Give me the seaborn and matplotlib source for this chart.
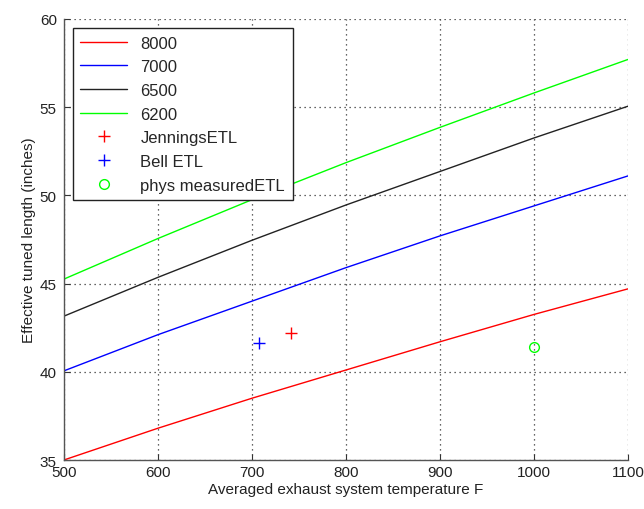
import pandas as pd
import numpy as np
import matplotlib.pyplot as plt
import seaborn as sns

# temperatures (F) and effective tuned lengths
temps = [500, 600, 700, 800, 900, 1000, 1100]
etl_8000 = [35.0, 36.8, 38.5, 40.1, 41.7, 43.25, 44.7]
etl_7000 = [40.05, 42.1, 44.0, 45.9, 47.7, 49.4, 51.1]
etl_6500 = [43.15, 45.35, 47.45, 49.45, 51.35, 53.25, 55.05]
etl_6200 = [45.25, 47.55, 49.75, 51.85, 53.85, 55.8, 57.7]

rpm_labels = ['8000', '7000', '6500', '6200']
line_colors = ['#ff0000', '#0000ff', '#222222', '#00ff00']

jennings_x, jennings_y = [742], [42.2]
bell_x, bell_y = [708], [41.65]
phys_x, phys_y = [1000], [41.4]

rows = []
for lab, vals in zip(rpm_labels, [etl_8000, etl_7000, etl_6500, etl_6200]):
    for t, v in zip(temps, vals):
        rows.append({'temp': t, 'etl': v, 'rpm': lab})
df = pd.DataFrame(rows)

sns.set_style("white")
plt.rcParams['font.family'] = ['Liberation Sans', 'DejaVu Sans']

fig = plt.figure(figsize=(6.44, 5.1), dpi=100)
ax = fig.add_axes([0.099, 0.096, 0.876, 0.865])

sns.lineplot(data=df, x='temp', y='etl', hue='rpm', hue_order=rpm_labels,
             palette=line_colors, linewidth=1.0, ax=ax, legend=False)
for line, lab in zip(ax.get_lines(), rpm_labels):
    line.set_label(lab)

ax.plot(jennings_x, jennings_y, '+', color='#ff0000', markersize=8, mew=1.0, label='JenningsETL')
ax.plot(bell_x, bell_y, '+', color='#0000ff', markersize=8, mew=1.0, label='Bell ETL')
ax.plot(phys_x, phys_y, 'o', mfc='none', mec='#00ff00', markersize=7, mew=1.0, label='phys measuredETL')

ax.set_xlim(500, 1100)
ax.set_ylim(35, 60)
ax.set_xticks(range(500, 1101, 100))
ax.set_yticks(range(35, 61, 5))
ax.grid(True, linestyle=(0, (1, 3)), color='#333333', linewidth=0.9)
ax.set_axisbelow(True)
for s in ['top', 'right']:
    ax.spines[s].set_visible(False)
for s in ['left', 'bottom']:
    ax.spines[s].set_color('#555555')
    ax.spines[s].set_linewidth(1.0)
ax.tick_params(direction='in', length=4, colors='#333333', labelsize=11, left=True, bottom=True)
ax.tick_params(labelcolor='#222222')
ax.tick_params(axis='y', pad=5)

ax.set_xlabel('Averaged exhaust system temperature F', fontsize=11, color='#222222', labelpad=2)
ax.set_ylabel('Effective tuned length (inches)', fontsize=11, color='#222222', labelpad=3)

leg = ax.legend(loc='upper left', fontsize=12, frameon=True, fancybox=False,
                edgecolor='#222222', framealpha=1, handlelength=2.8,
                borderaxespad=0.55, labelspacing=0.52, borderpad=0.45)
leg.get_frame().set_linewidth(1.0)

plt.savefig('out.png', dpi=100)
